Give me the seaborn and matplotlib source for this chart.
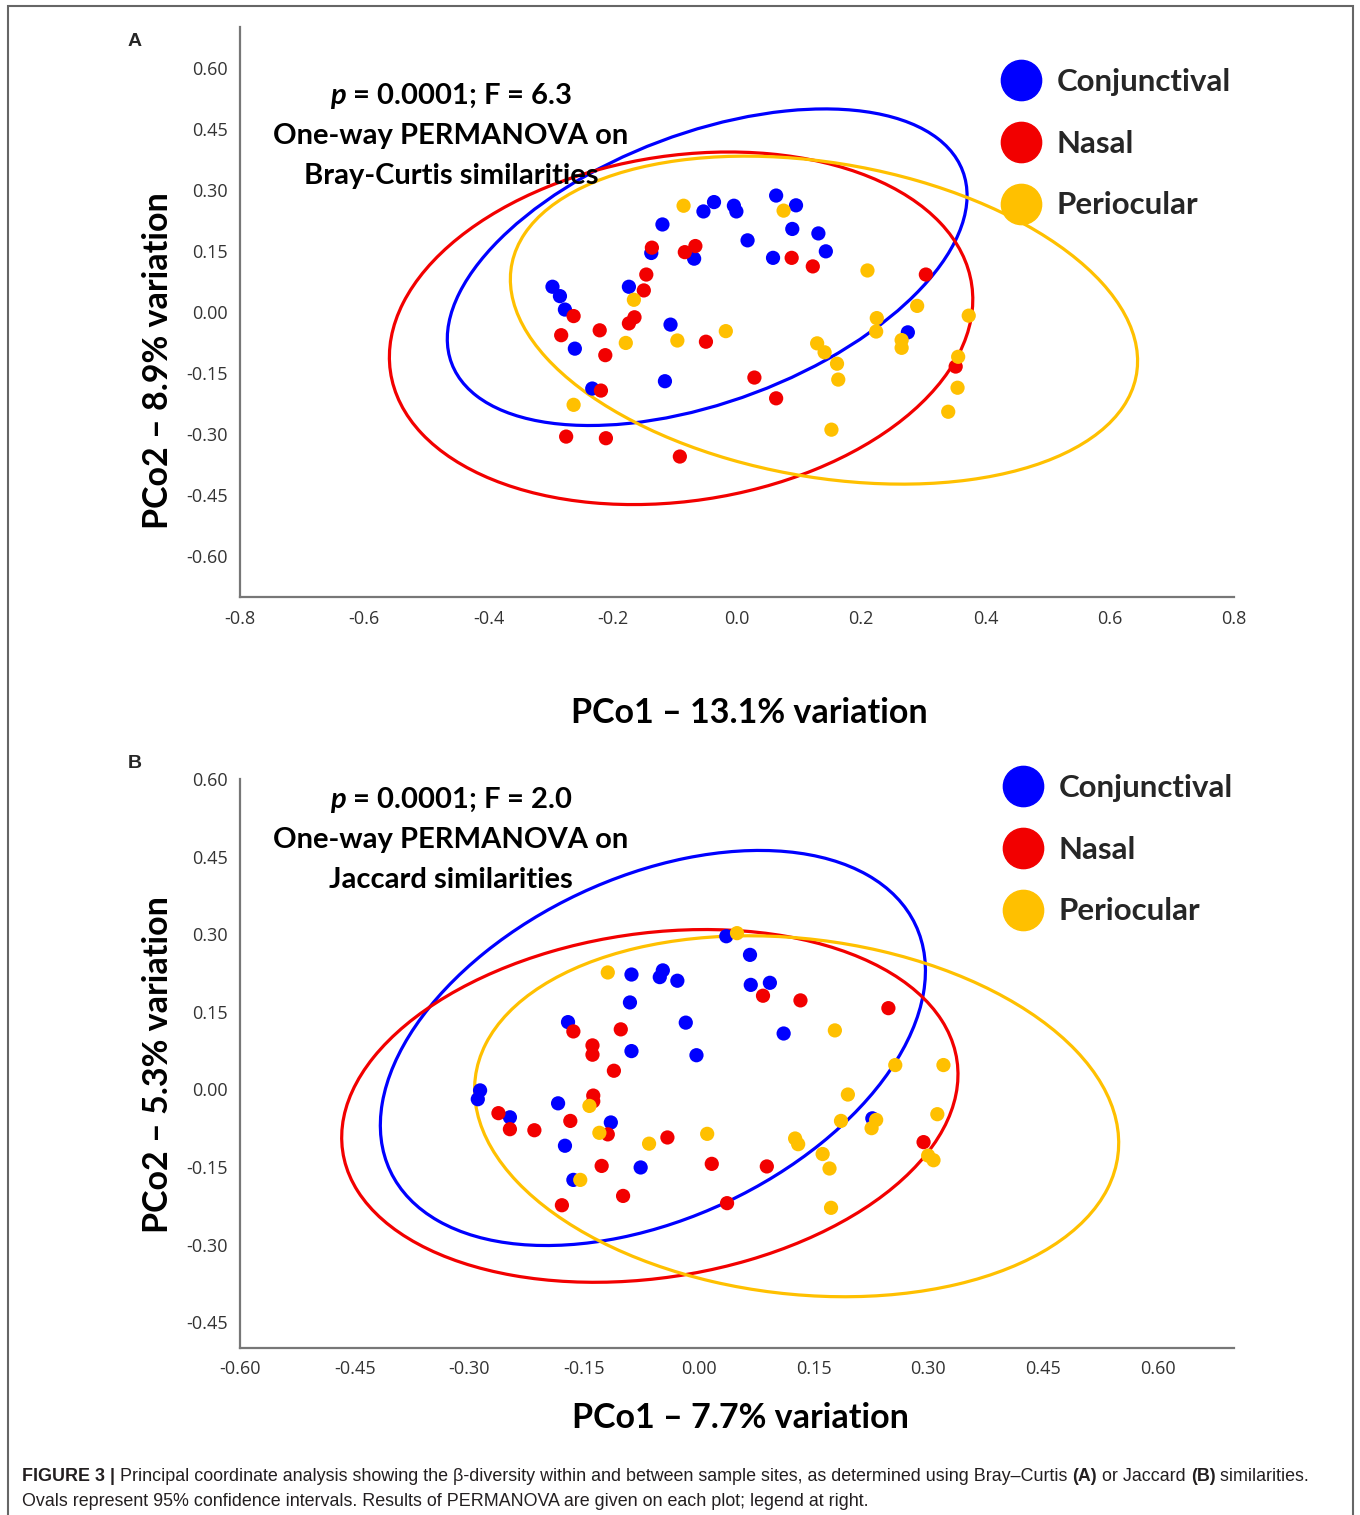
import matplotlib
matplotlib.use("Agg")
import matplotlib.pyplot as plt
from matplotlib.patches import Ellipse, Rectangle
from matplotlib.lines import Line2D
import seaborn as sns
import pandas as pd

# ---- data ----
groups = ["Conjunctival", "Nasal", "Periocular"]
colors = ["#0000FF", "#F20000", "#FFC000"]

# panel A (Bray-Curtis)
a_conj_x = [-0.297, -0.285, -0.277, -0.261, -0.233, -0.174, -0.138, -0.120, -0.107, -0.116, -0.069, -0.054,
            -0.037, -0.005, -0.001, 0.017, 0.058, 0.063, 0.095, 0.089, 0.131, 0.143, 0.275]
a_conj_y = [0.062, 0.039, 0.006, -0.090, -0.188, 0.062, 0.145, 0.215, -0.031, -0.170, 0.131, 0.247,
            0.270, 0.261, 0.247, 0.176, 0.133, 0.286, 0.262, 0.204, 0.193, 0.149, -0.050]
a_nasal_x = [-0.263, -0.283, -0.221, -0.212, -0.219, -0.275, -0.211, -0.174, -0.165, -0.150, -0.146,
             -0.137, -0.084, -0.067, -0.050, 0.028, 0.063, -0.092, 0.088, 0.122, 0.304, 0.352]
a_nasal_y = [-0.010, -0.057, -0.045, -0.106, -0.193, -0.306, -0.310, -0.028, -0.013, 0.053, 0.092,
             0.158, 0.147, 0.162, -0.073, -0.161, -0.212, -0.355, 0.133, 0.112, 0.092, -0.134]
a_peri_x = [-0.086, 0.075, -0.166, -0.179, -0.096, -0.018, -0.263, 0.210, 0.129, 0.141, 0.161,
            0.163, 0.152, 0.225, 0.224, 0.290, 0.265, 0.265, 0.373, 0.356, 0.355, 0.340]
a_peri_y = [0.261, 0.249, 0.030, -0.076, -0.070, -0.047, -0.228, 0.102, -0.077, -0.099, -0.127,
            -0.166, -0.289, -0.015, -0.048, 0.015, -0.069, -0.088, -0.009, -0.110, -0.186, -0.245]

# panel B (Jaccard)
b_conj_x = [0.036, 0.067, 0.068, 0.093, -0.088, -0.051, -0.047, -0.028, -0.090, -0.017, 0.111, -0.171,
            -0.088, -0.003, -0.286, -0.289, -0.247, -0.184, -0.115, -0.175, -0.076, -0.164, 0.227]
b_conj_y = [0.296, 0.260, 0.202, 0.206, 0.222, 0.217, 0.230, 0.210, 0.168, 0.129, 0.108, 0.130,
            0.074, 0.066, -0.002, -0.019, -0.054, -0.027, -0.064, -0.109, -0.151, -0.175, -0.056]
b_nasal_x = [0.084, 0.133, 0.248, -0.164, -0.102, -0.139, -0.139, -0.111, -0.138, -0.138, -0.262, -0.247,
             -0.215, -0.168, -0.119, -0.041, -0.127, 0.017, 0.089, -0.099, -0.179, 0.037, 0.294]
b_nasal_y = [0.181, 0.172, 0.157, 0.112, 0.116, 0.085, 0.067, 0.036, -0.012, -0.023, -0.046, -0.077,
             -0.079, -0.061, -0.087, -0.093, -0.148, -0.144, -0.149, -0.206, -0.224, -0.220, -0.102]
b_peri_x = [0.050, -0.119, 0.178, 0.257, 0.320, 0.195, 0.312, -0.143, -0.130, -0.065, 0.011,
            0.186, 0.232, 0.226, 0.126, 0.130, 0.162, 0.171, 0.173, 0.300, 0.307, -0.155]
b_peri_y = [0.302, 0.226, 0.114, 0.047, 0.047, -0.010, -0.048, -0.032, -0.084, -0.105, -0.086,
            -0.061, -0.059, -0.075, -0.095, -0.106, -0.125, -0.153, -0.229, -0.128, -0.137, -0.175]

# 95% ellipses: centre x, centre y, width, height, angle (deg), per group
a_ell_cx = [-0.048, -0.090, 0.140]
a_ell_cy = [0.110, -0.040, -0.020]
a_ell_w = [0.975, 0.982, 1.053]
a_ell_h = [0.595, 0.817, 0.748]
a_ell_ang = [40.4, 31.8, -23.8]

b_ell_cx = [-0.060, -0.064, 0.128]
b_ell_cy = [0.080, -0.032, -0.052]
b_ell_w = [0.873, 0.832, 0.860]
b_ell_h = [0.574, 0.650, 0.676]
b_ell_ang = [50.0, 23.4, -19.0]

a_xticks = [-0.8, -0.6, -0.4, -0.2, 0.0, 0.2, 0.4, 0.6, 0.8]
a_yticks = [-0.60, -0.45, -0.30, -0.15, 0.00, 0.15, 0.30, 0.45, 0.60]
b_xticks = [-0.60, -0.45, -0.30, -0.15, 0.00, 0.15, 0.30, 0.45, 0.60]
b_yticks = [-0.45, -0.30, -0.15, 0.00, 0.15, 0.30, 0.45, 0.60]


def make_df(xs, ys):
    rows = []
    for g, x, y in zip(groups, xs, ys):
        rows.append(pd.DataFrame({"x": x, "y": y, "site": g}))
    return pd.concat(rows, ignore_index=True)


df_a = make_df([a_conj_x, a_nasal_x, a_peri_x], [a_conj_y, a_nasal_y, a_peri_y])
df_b = make_df([b_conj_x, b_nasal_x, b_peri_x], [b_conj_y, b_nasal_y, b_peri_y])

sns.set_theme(style="white")
plt.rcParams["font.family"] = ["DejaVu Sans"]
plt.rcParams["axes.unicode_minus"] = False
plt.rcParams["mathtext.fontset"] = "custom"
plt.rcParams["mathtext.it"] = "Lato:style=italic:weight=bold"
plt.rcParams["mathtext.rm"] = "Lato:weight=bold"

BOLD = dict(family="Lato", fontweight="bold", color="black")
palette = dict(zip(groups, colors))

fig = plt.figure(figsize=(13.6, 15.15), dpi=100)
ax_a = fig.add_axes([240 / 1360, 1 - 597 / 1515, 994 / 1360, 570 / 1515])
ax_b = fig.add_axes([240 / 1360, 1 - 1348 / 1515, 994 / 1360, 569 / 1515])


def draw_panel(ax, df, cx, cy, w, h, ang, xlim, ylim, xticks, yticks, xfmt, yfmt):
    for i, g in enumerate(groups):
        ax.add_patch(Ellipse((cx[i], cy[i]), w[i], h[i], angle=ang[i], fill=False,
                             edgecolor=colors[i], lw=2.3, zorder=1))
    sns.scatterplot(data=df, x="x", y="y", hue="site", hue_order=groups, palette=palette,
                    s=105, linewidth=0, legend=False, ax=ax, zorder=3)
    ax.set_xlim(*xlim)
    ax.set_ylim(*ylim)
    ax.set_xticks(xticks)
    ax.set_yticks(yticks)
    ax.set_xticklabels([xfmt % v for v in xticks])
    ax.set_yticklabels([yfmt % v for v in yticks])
    for s in ["top", "right"]:
        ax.spines[s].set_visible(False)
    for s in ["left", "bottom"]:
        ax.spines[s].set_color("#777777")
        ax.spines[s].set_linewidth(1.6)
    ax.tick_params(axis="both", direction="out", length=5, width=1.4, color="#777777",
                   pad=4, labelsize=13, labelcolor="#333333")
    for lab in ax.get_xticklabels() + ax.get_yticklabels():
        lab.set_family("Open Sans")
    handles = [Line2D([], [], marker="o", ls="", color=c, markersize=29) for c in colors]
    return handles


leg_kw = dict(loc="upper left", frameon=False, prop=dict(family="Lato", weight="bold", size=22.5),
              handlelength=1.2, handletextpad=0.55, labelspacing=1.08, borderpad=0, borderaxespad=0)

h = draw_panel(ax_a, df_a, a_ell_cx, a_ell_cy, a_ell_w, a_ell_h, a_ell_ang,
               (-0.8, 0.8), (-0.7, 0.7), a_xticks, a_yticks, "%.1f", "%.2f")
ax_a.legend(h, groups, bbox_to_anchor=(1002 / 1360, 1 - 68 / 1515), bbox_transform=fig.transFigure, **leg_kw)

h = draw_panel(ax_b, df_b, b_ell_cx, b_ell_cy, b_ell_w, b_ell_h, b_ell_ang,
               (-0.6, 0.7), (-0.5, 0.6), b_xticks, b_yticks, "%.2f", "%.2f")
ax_b.legend(h, groups, bbox_to_anchor=(1004 / 1360, 1 - 774 / 1515), bbox_transform=fig.transFigure, **leg_kw)

# axis labels
ax_a.set_xlabel("PCo1 – 13.1% variation", fontsize=24.5, va="center", **BOLD)
ax_a.xaxis.set_label_coords((749 - 240) / 994, (597 - 713) / 570)
ax_a.set_ylabel("PCo2 – 8.9% variation", fontsize=24.5, va="center", **BOLD)
ax_a.yaxis.set_label_coords((158 - 240) / 994, (597 - 361) / 570)
ax_b.set_xlabel("PCo1 – 7.7% variation", fontsize=24.5, va="center", **BOLD)
ax_b.xaxis.set_label_coords((740 - 240) / 994, (1348 - 1418) / 569)
ax_b.set_ylabel("PCo2 – 5.3% variation", fontsize=24.5, va="center", **BOLD)
ax_b.yaxis.set_label_coords((158 - 240) / 994, (1348 - 1065) / 569)

# PERMANOVA notes
notes_a = ["$p$ = 0.0001; F = 6.3", "One-way PERMANOVA on", "Bray-Curtis similarities"]
notes_b = ["$p$ = 0.0001; F = 2.0", "One-way PERMANOVA on", "Jaccard similarities"]
for ys, notes in [([96, 136, 176], notes_a), ([800, 840, 880], notes_b)]:
    for yy, t in zip(ys, notes):
        fig.text(451 / 1360, 1 - yy / 1515, t, ha="center", va="center", fontsize=21, **BOLD)

fig.text(135 / 1360, 1 - 42 / 1515, "A", ha="center", va="center", fontsize=14,
         family="Liberation Sans", fontweight="bold")
fig.text(135 / 1360, 1 - 763 / 1515, "B", ha="center", va="center", fontsize=14,
         family="Liberation Sans", fontweight="bold")

# frame
fig.patches.append(Rectangle((8 / 1360, -0.01), (1353 - 8) / 1360, 1.01 - 6 / 1515,
                             transform=fig.transFigure, fill=False, edgecolor="#666666", lw=1.5))

# caption
cap_kw = dict(fontsize=12.9, family="Liberation Sans", color="#231F20")
parts = [("FIGURE 3 | ", "bold"),
         ("Principal coordinate analysis showing the β-diversity within and between sample sites, "
          "as determined using Bray–Curtis ", "normal"),
         ("(A)", "bold"), (" or Jaccard ", "normal"), ("(B)", "bold"), (" similarities.", "normal")]
prev = fig.text(22 / 1360, 1 - 1481 / 1515, parts[0][0], fontweight=parts[0][1], va="baseline", **cap_kw)
for txt, wt in parts[1:]:
    prev = ax_a.annotate(txt, xy=(1, 0), xycoords=prev, xytext=(0, 0), textcoords="offset points",
                         fontweight=wt, annotation_clip=False, va="bottom", **cap_kw)
fig.text(22 / 1360, 1 - 1506 / 1515,
         "Ovals represent 95% confidence intervals. Results of PERMANOVA are given on each plot; legend at right.",
         va="baseline", **cap_kw)

fig.savefig("out.png", dpi=100)
